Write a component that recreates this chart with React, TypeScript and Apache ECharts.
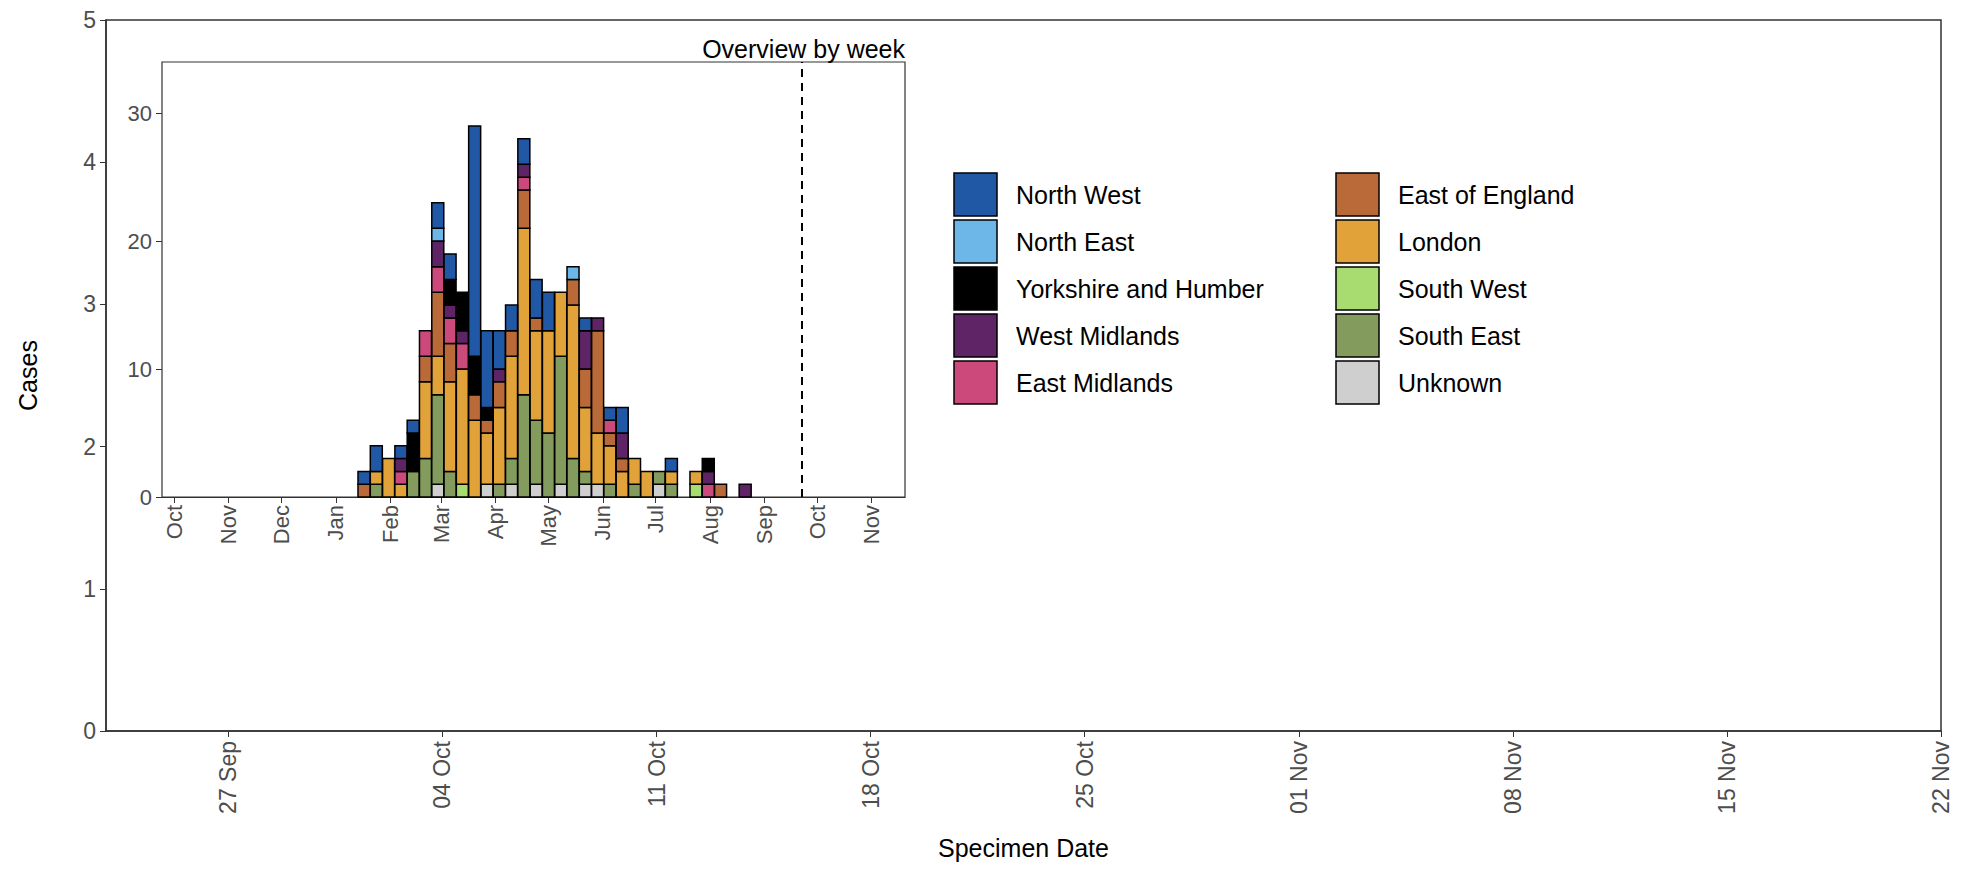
import { useEffect, useRef } from 'react'
import * as echarts from 'echarts'

const DAY = 86400000

// weekly bars, first week centred on 17 Jan 2020
const weekStart = Date.UTC(2020, 0, 17)
const weeks = Array.from({ length: 32 }, (_, i) => weekStart + i * 7 * DAY)

// stacked bottom -> top
const regions = [
  'Unknown', 'South West', 'South East', 'London', 'East of England',
  'East Midlands', 'West Midlands', 'Yorkshire and Humber', 'North East', 'North West',
]
const colors: Record<string, string> = {
  'North West': '#2058a5',
  'North East': '#6cb7e8',
  'Yorkshire and Humber': '#000000',
  'West Midlands': '#5e2465',
  'East Midlands': '#cb4a7b',
  'East of England': '#ba6a39',
  'London': '#e1a339',
  'South West': '#a9dc70',
  'South East': '#839b5c',
  'Unknown': '#cfcfcf',
}
const counts: Record<string, number[]> = {
  'North West':           [1,2,0,1,1,0,2,2,0,18,6,3,2,2,3,3,0,0,1,0,1,2,0,0,0,1,0,0,0,0,0,0],
  'North East':           [0,0,0,0,0,0,1,0,0,0,0,0,0,0,0,0,0,1,0,0,0,0,0,0,0,0,0,0,0,0,0,0],
  'Yorkshire and Humber': [0,0,0,0,3,0,0,2,3,3,1,0,0,0,0,0,0,0,0,0,0,0,0,0,0,0,0,0,1,0,0,0],
  'West Midlands':        [0,0,0,1,0,0,2,1,1,0,0,1,0,1,0,0,0,0,3,1,0,2,0,0,0,0,0,0,1,0,0,1],
  'East Midlands':        [0,0,0,1,0,2,2,2,2,0,0,0,0,1,0,0,0,0,0,0,1,0,0,0,0,0,0,0,1,0,0,0],
  'East of England':      [1,0,0,0,0,2,5,3,0,2,1,2,2,3,1,0,0,2,3,8,1,1,0,0,0,0,0,0,0,1,0,0],
  'London':               [0,1,3,1,0,6,3,7,9,6,4,6,8,13,7,8,5,12,5,4,3,2,2,2,0,1,0,1,0,0,0,0],
  'South West':           [0,0,0,0,0,0,0,0,1,0,0,0,0,0,0,0,0,0,0,0,0,0,0,0,0,0,0,1,0,0,0,0],
  'South East':           [0,1,0,0,2,3,7,2,0,0,0,1,2,8,5,5,10,3,1,0,1,0,1,0,1,1,0,0,0,0,0,0],
  'Unknown':              [0,0,0,0,0,0,1,0,0,0,1,0,1,0,1,0,1,0,1,1,0,0,0,0,1,0,0,0,0,0,0,0],
}
const legendCol1 = ['North West', 'North East', 'Yorkshire and Humber', 'West Midlands', 'East Midlands']
const legendCol2 = ['East of England', 'London', 'South West', 'South East', 'Unknown']

const insetMonths = Array.from({ length: 14 }, (_, i) => Date.UTC(2019, 9 + i, 1))
const monthNames = ['Jan', 'Feb', 'Mar', 'Apr', 'May', 'Jun', 'Jul', 'Aug', 'Sep', 'Oct', 'Nov', 'Dec']
const mainTicks = Array.from({ length: 9 }, (_, i) => Date.UTC(2020, 8, 27) + i * 7 * DAY)
const dashedDate = Date.UTC(2020, 8, 22)

const fmtDay = (v: number) => {
  const d = new Date(v)
  return String(d.getUTCDate()).padStart(2, '0') + ' ' + monthNames[d.getUTCMonth()]
}

export default function App() {
  const chartRef = useRef<HTMLDivElement>(null)

  useEffect(() => {
    if (!chartRef.current) return
    const chart = echarts.init(chartRef.current, null, { renderer: 'svg' })
    const font = 'Liberation Sans'
    const axisColor = '#333333'
    const labelColor = '#4d4d4d'

    // [week, bottom, top] per region, stacked in order
    const running = weeks.map(() => 0)
    const stacked: Record<string, number[][]> = {}
    regions.forEach((r) => {
      stacked[r] = []
      weeks.forEach((w, i) => {
        const v = counts[r][i]
        if (v > 0) stacked[r].push([w, running[i], running[i] + v])
        running[i] += v
      })
    })

    const legendItems: any[] = []
    ;[legendCol1, legendCol2].forEach((col, ci) => {
      col.forEach((name, ri) => {
        const x = ci === 0 ? 946 : 1328
        const y = 165 + ri * 47
        legendItems.push({
          type: 'rect', shape: { x, y, width: 43, height: 43 },
          style: { fill: colors[name], stroke: '#000', lineWidth: 1.5 },
        })
        legendItems.push({
          type: 'text', x: x + 62, y: y + 22,
          style: { text: name, fontSize: 25, fontFamily: font, fill: '#000', verticalAlign: 'middle' },
        })
      })
    })

    const option = {
      animation: false,
      grid: [
        { left: 98, top: 12, right: 15, bottom: 137, outerBoundsMode: 'none', show: true, borderColor: axisColor, borderWidth: 1.5 },
        { left: 154, top: 54, width: 743, height: 435, outerBoundsMode: 'none', show: true, borderColor: axisColor, borderWidth: 1.2, backgroundColor: '#fff', z: 5 },
      ],
      xAxis: [
        {
          type: 'value', gridIndex: 0,
          min: Date.UTC(2020, 8, 23), max: Date.UTC(2020, 10, 22),
          axisLine: { show: true, lineStyle: { color: axisColor, width: 1.5 } },
          axisTick: { show: true, customValues: mainTicks, length: 6, lineStyle: { color: axisColor } },
          axisLabel: {
            customValues: mainTicks, rotate: 90, formatter: fmtDay,
            fontSize: 23, color: labelColor, fontFamily: font, margin: 10,
          },
          splitLine: { show: false },
          name: 'Specimen Date', nameLocation: 'middle', nameGap: 104,
          nameTextStyle: { fontSize: 25, color: '#000', fontFamily: font },
        },
        {
          type: 'value', gridIndex: 1,
          min: Date.UTC(2019, 8, 24), max: Date.UTC(2020, 10, 20),
          axisLine: { show: true, lineStyle: { color: axisColor, width: 1.2 } },
          axisTick: { show: true, customValues: insetMonths, length: 6, lineStyle: { color: axisColor } },
          axisLabel: {
            customValues: insetMonths, rotate: 90,
            formatter: (v: number) => monthNames[new Date(v).getUTCMonth()],
            fontSize: 22, color: labelColor, fontFamily: font, margin: 8,
          },
          splitLine: { show: false },
        },
      ],
      yAxis: [
        {
          type: 'value', gridIndex: 0, min: 0, max: 5, interval: 1,
          axisLine: { show: true, lineStyle: { color: axisColor, width: 1.5 } },
          axisTick: { show: true, length: 6, lineStyle: { color: axisColor } },
          axisLabel: { fontSize: 23, color: labelColor, fontFamily: font, margin: 10 },
          splitLine: { show: false },
          name: 'Cases', nameLocation: 'middle', nameGap: 66,
          nameTextStyle: { fontSize: 25, color: '#000', fontFamily: font },
        },
        {
          type: 'value', gridIndex: 1, min: 0, max: 34, interval: 10,
          axisLine: { show: false },
          axisTick: { show: true, length: 6, lineStyle: { color: axisColor } },
          axisLabel: { fontSize: 22, color: labelColor, fontFamily: font, margin: 10, showMaxLabel: false },
          splitLine: { show: false },
        },
      ],
      series: [
        { type: 'scatter', xAxisIndex: 0, yAxisIndex: 0, data: [] },
        ...regions.map((r) => ({
          name: r, type: 'custom', xAxisIndex: 1, yAxisIndex: 1, z: 6,
          encode: { x: 0, y: [1, 2] },
          data: stacked[r],
          renderItem: (params: any, api: any) => {
            const x = api.value(0)
            const p0 = api.coord([x, api.value(1)])
            const p1 = api.coord([x, api.value(2)])
            const w = 12
            return {
              type: 'rect',
              shape: { x: p0[0] - w / 2, y: p1[1], width: w, height: p0[1] - p1[1] },
              style: { fill: colors[r], stroke: '#000', lineWidth: 1.5 },
            }
          },
        })),
        {
          type: 'line', xAxisIndex: 1, yAxisIndex: 1, data: [], z: 7,
          markLine: {
            symbol: 'none', silent: true, label: { show: false },
            lineStyle: { color: '#000', type: [8, 6], width: 2 },
            data: [{ xAxis: dashedDate }],
          },
        },
      ],
      graphic: [
        {
          type: 'text', right: 1051, top: 28, z: 10,
          style: { text: 'Overview by week', fontSize: 25, fontFamily: font, fill: '#000' },
        },
        ...legendItems,
      ],
    }

    chart.setOption(option)
    return () => chart.dispose()
  }, [])

  return <div ref={chartRef} style={{ width: '1948px', height: '860px' }} />
}
